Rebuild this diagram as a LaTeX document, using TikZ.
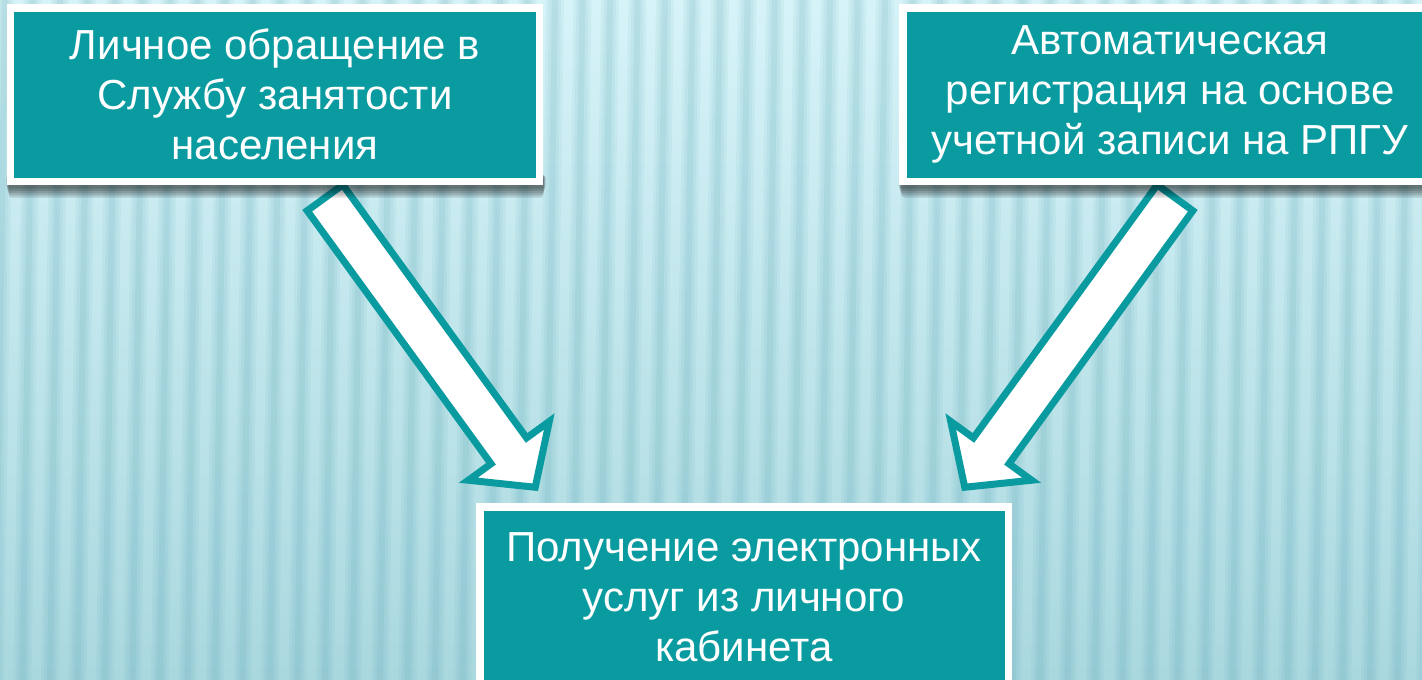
\documentclass[tikz,border=0pt]{standalone}
\usepackage{fontspec}
\setmainfont{Liberation Sans}
\usetikzlibrary{calc}
\definecolor{teal1}{HTML}{0A9BA0}
\definecolor{bgtop}{HTML}{D6F3F8}
\definecolor{bgbot}{HTML}{AAD8DF}
\definecolor{stripecol}{HTML}{4E9FAE}
\pgfdeclarelayer{bgl}
\pgfdeclarelayer{arl}
\pgfdeclarelayer{shl}
\pgfsetlayers{bgl,arl,shl,main}
\tikzset{
  box/.style={draw=white, line width=7.5pt, fill=teal1, text=white, align=center,
    font=\fontsize{42pt}{50pt}\selectfont, inner sep=0pt},
  bigarrow/.style={draw=teal1, line width=7pt, fill=white, line join=miter},
  arrowshadow/.style={fill=black, fill opacity=0.12, draw=none},
  boxshadow/.style={fill=black, fill opacity=0.13, draw=none, rounded corners=3pt},
}
\newcommand{\blockarrow}[4]{%
  \coordinate (#3b) at ($(#2)!45pt!(#1)$);
  \path[#4] ($(#1)!22pt!-90:(#2)$) -- ($(#3b)!22pt!-90:(#2)$) -- ($(#3b)!50pt!-90:(#2)$)
    -- (#2) -- ($(#3b)!50pt!90:(#2)$) -- ($(#3b)!22pt!90:(#2)$) -- ($(#1)!22pt!90:(#2)$) -- cycle;
}
\newcommand{\boxshadow}[1]{%
  \foreach \k in {1,...,5}{
    \path[boxshadow] ($(#1.south west)+(-1+\k*0.6,-10)$) rectangle ($(#1.south east)+(3-\k*0.6,1.5+2.2*\k)$);
  }
}
\begin{document}
\begin{tikzpicture}[x=1pt, y=-1pt]
\useasboundingbox (0,0) rectangle (1422,680);
\begin{pgfonlayer}{bgl}
  \shade[top color=bgtop, bottom color=bgbot] (0,0) rectangle (1422,680);
  \foreach \i in {0,...,52}{
    \pgfmathsetmacro\xc{\i*27.5}
    \foreach \hw/\op in {9/0.07,6/0.08,3/0.1}{
      \fill[stripecol, fill opacity=\op] (\xc-\hw+5,0) -- (\xc+\hw+5,0) -- (\xc+\hw-5,680) -- (\xc-\hw-5,680) -- cycle;
    }
  }
\end{pgfonlayer}

\node[box, minimum width=529pt, minimum height=173.5pt] (b1) at (275,94.5)
  {Личное обращение в\\Службу занятости\\населения};
\node[box, minimum width=534pt, minimum height=173.5pt] (b2) at (1170,94.5)
  {Автоматическая\\регистрация на основе\\учетной записи на РПГУ};
\node[box, minimum width=528.5pt, minimum height=180pt] (b3) at (744,596.75)
  {Получение электронных\\услуг из личного\\кабинета};

\begin{pgfonlayer}{shl}
  \boxshadow{b1}
  \boxshadow{b2}
\end{pgfonlayer}

\coordinate (a1s) at ($(b1.south)+(50,12.75)$);
\coordinate (a1e) at ($(b3.north west)+(59.25,-15.75)$);
\coordinate (a2s) at ($(b2.south)+(5,12.75)$);
\coordinate (a2e) at ($(b3.north east)+(-47.25,-15.75)$);
\begin{pgfonlayer}{arl}
  \begin{scope}[shift={(4,3)}]
    \blockarrow{a1s}{a1e}{sh1}{arrowshadow}
    \blockarrow{a2s}{a2e}{sh2}{arrowshadow}
  \end{scope}
  \blockarrow{a1s}{a1e}{ar1}{bigarrow}
  \blockarrow{a2s}{a2e}{ar2}{bigarrow}
\end{pgfonlayer}
\end{tikzpicture}
\end{document}
